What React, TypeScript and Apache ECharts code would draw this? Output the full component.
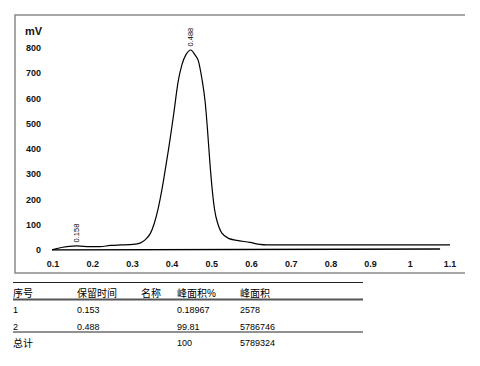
import React, { useEffect, useRef } from "react";
import * as echarts from "echarts";

// Chromatogram signal (retention time in min, signal in mV)
const signalTimes = [0.097, 0.113, 0.135, 0.16, 0.193, 0.218, 0.244, 0.269, 0.302, 0.319, 0.332, 0.345, 0.355, 0.365, 0.375, 0.385, 0.395, 0.405, 0.415, 0.425, 0.435, 0.447, 0.458, 0.466, 0.476, 0.483, 0.489, 0.495, 0.501, 0.507, 0.514, 0.525, 0.542, 0.563, 0.596, 0.621, 0.638, 0.7, 0.9, 1.1];
const signalValues = [0, 7, 13, 16, 13, 13, 18, 20, 22, 27, 40, 65, 105, 165, 245, 340, 440, 550, 665, 735, 774, 792, 772, 750, 670, 590, 480, 350, 240, 160, 110, 68, 46, 38, 30, 22, 20, 20, 20, 20];

// Integration baseline
const baselineTimes = [0.097, 1.075];
const baselineValues = [0, 4];

// Peak labels
const peakTimes = [0.16, 0.447];
const peakValues = [16, 792];
const peakLabels = ["0.158", "0.488"];

// Table
const tableHeader = ["序号", "保留时间", "名称", "峰面积%", "峰面积"];
const tableRow1 = ["1", "0.153", "", "0.18967", "2578"];
const tableRow2 = ["2", "0.488", "", "99.81", "5786746"];
const tableTotal = ["总计", "", "", "100", "5789324"];

const colX = [13, 77, 141, 177, 240];
const FONT = "'Liberation Sans', Arial, 'Noto Sans CJK SC', sans-serif";

export default function App() {
  const ref = useRef<HTMLDivElement>(null);
  useEffect(() => {
    if (!ref.current) return;
    const chart = echarts.init(ref.current, null, { renderer: "svg" });

    const rowText = (row: string[], y: number) =>
      row
        .map((t, i) => ({ t, i }))
        .filter((c) => c.t !== "")
        .map((c) => ({
          type: "text",
          x: colX[c.i],
          y,
          style: {
            text: c.t,
            fill: "#000",
            font: `${/[\u4e00-\u9fff]/.test(c.t) ? 10 : 9}px ${FONT}`,
            verticalAlign: "middle",
            align: "left",
          },
        }));

    chart.setOption({
      animation: false,
      backgroundColor: "#fff",
      grid: { left: 53, right: 30, top: 48, bottom: 116 },
      xAxis: {
        type: "value",
        min: 0.1,
        max: 1.1,
        interval: 0.1,
        axisLine: { show: false },
        axisTick: { show: false },
        splitLine: { show: false },
        axisLabel: {
          margin: 9,
          fontSize: 9,
          fontWeight: "bold",
          color: "#111",
          fontFamily: FONT,
          formatter: (v: number) => String(Math.round(v * 10) / 10),
        },
      },
      yAxis: {
        type: "value",
        min: 0,
        max: 800,
        interval: 100,
        axisLine: { show: false },
        axisTick: { show: false },
        splitLine: { show: false },
        axisLabel: {
          margin: 12,
          fontSize: 9,
          fontWeight: "bold",
          color: "#111",
          fontFamily: FONT,
        },
      },
      series: [
        {
          type: "line",
          data: baselineTimes.map((t, i) => [t, baselineValues[i]]),
          showSymbol: false,
          lineStyle: { color: "#000", width: 1.6 },
          silent: true,
        },
        {
          type: "line",
          data: signalTimes.map((t, i) => [t, signalValues[i]]),
          showSymbol: false,
          smooth: 0.3,
          lineStyle: { color: "#000", width: 1.2 },
          silent: true,
        },
        {
          type: "scatter",
          symbolSize: 1,
          itemStyle: { opacity: 0 },
          data: peakTimes.map((t, i) => ({ value: [t, peakValues[i]], name: peakLabels[i] })),
          label: {
            show: true,
            position: "top",
            distance: 3,
            rotate: 90,
            align: "left",
            verticalAlign: "middle",
            formatter: "{b}",
            fontSize: 7.5,
            color: "#000",
            opacity: 1,
            fontFamily: FONT,
          },
          silent: true,
        },
      ],
      graphic: [
        {
          type: "polyline",
          shape: { points: [[465, 15], [15, 15], [15, 273], [465, 273]] },
          style: { stroke: "#8a8a8a", lineWidth: 1.5, fill: "none" },
        },
        {
          type: "text",
          x: 25,
          y: 31,
          style: {
            text: "mV",
            font: `bold 11px ${FONT}`,
            fill: "#111",
            verticalAlign: "middle",
          },
        },
        {
          type: "line",
          shape: { x1: 13, y1: 282.5, x2: 363, y2: 282.5 },
          style: { stroke: "#222", lineWidth: 1 },
        },
        {
          type: "line",
          shape: { x1: 13, y1: 299.5, x2: 363, y2: 299.5 },
          style: { stroke: "#555", lineWidth: 2 },
        },
        {
          type: "line",
          shape: { x1: 13, y1: 332, x2: 363, y2: 332 },
          style: { stroke: "#222", lineWidth: 1 },
        },
        ...rowText(tableHeader, 293),
        ...rowText(tableRow1, 310),
        ...rowText(tableRow2, 326.5),
        ...rowText(tableTotal, 343),
      ],
    });
    return () => chart.dispose();
  }, []);
  return (
    <div
      ref={ref}
      style={{ position: "fixed", left: 0, top: 0, width: 480, height: 366, background: "#fff" }}
    />
  );
}
